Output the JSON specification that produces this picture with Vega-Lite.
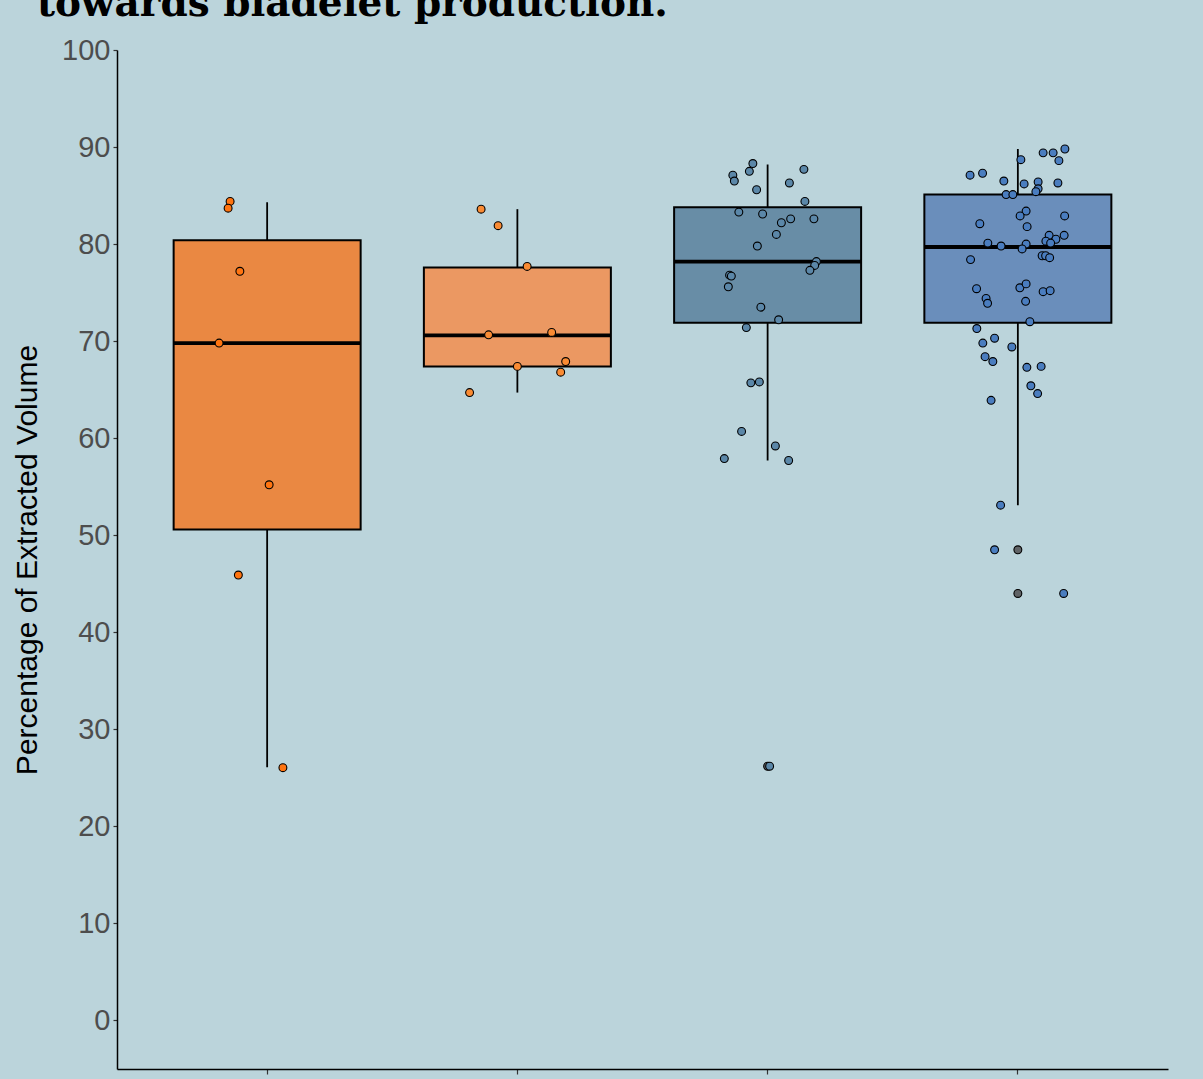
{
  "$schema": "https://vega.github.io/schema/vega-lite/v6.json",
  "width": 1051,
  "height": 1019,
  "autosize": "none",
  "padding": {"left": 117, "top": 50, "right": 35, "bottom": 10},
  "background": "#BBD4DB",
  "config": {"view": {"stroke": null}, "font": "Liberation Sans"},
  "title": {
    "text": "towards bladelet production.",
    "anchor": "start",
    "frame": "group",
    "dx": -80,
    "offset": -19,
    "baseline": "alphabetic",
    "font": "DejaVu Serif",
    "fontSize": 39,
    "fontWeight": "bold",
    "color": "#000000"
  },
  "datasets": {
    "boxes": [
      {"group": "A", "lower": 26.1, "q1": 50.6, "median": 69.8, "q3": 80.4, "upper": 84.3},
      {"group": "B", "lower": 64.7, "q1": 67.4, "median": 70.6, "q3": 77.6, "upper": 83.6},
      {"group": "C", "lower": 57.7, "q1": 71.9, "median": 78.2, "q3": 83.8, "upper": 88.2},
      {"group": "D", "lower": 53.1, "q1": 71.9, "median": 79.7, "q3": 85.1, "upper": 89.8}
    ],
    "outliers": [
      {"group": "C", "value": 26.2},
      {"group": "D", "value": 48.5},
      {"group": "D", "value": 44.0}
    ],
    "points": [
      {"group": "A", "value": 84.4, "jitter": -0.148},
      {"group": "A", "value": 83.7, "jitter": -0.156},
      {"group": "A", "value": 77.2, "jitter": -0.109},
      {"group": "A", "value": 69.8, "jitter": -0.192},
      {"group": "A", "value": 55.2, "jitter": 0.008},
      {"group": "A", "value": 45.9, "jitter": -0.115},
      {"group": "A", "value": 26.05, "jitter": 0.063},
      {"group": "B", "value": 83.6, "jitter": -0.145},
      {"group": "B", "value": 81.9, "jitter": -0.077},
      {"group": "B", "value": 77.7, "jitter": 0.039},
      {"group": "B", "value": 70.65, "jitter": -0.115},
      {"group": "B", "value": 70.9, "jitter": 0.137},
      {"group": "B", "value": 67.9, "jitter": 0.193},
      {"group": "B", "value": 67.4, "jitter": 0.0},
      {"group": "B", "value": 66.8, "jitter": 0.173},
      {"group": "B", "value": 64.7, "jitter": -0.191},
      {"group": "C", "value": 88.3, "jitter": -0.059},
      {"group": "C", "value": 87.1, "jitter": -0.139},
      {"group": "C", "value": 87.5, "jitter": -0.073},
      {"group": "C", "value": 86.5, "jitter": -0.133},
      {"group": "C", "value": 87.7, "jitter": 0.145},
      {"group": "C", "value": 86.3, "jitter": 0.087},
      {"group": "C", "value": 85.6, "jitter": -0.044},
      {"group": "C", "value": 84.4, "jitter": 0.149},
      {"group": "C", "value": 83.3, "jitter": -0.115},
      {"group": "C", "value": 83.1, "jitter": -0.02},
      {"group": "C", "value": 82.2, "jitter": 0.055},
      {"group": "C", "value": 82.6, "jitter": 0.092},
      {"group": "C", "value": 82.6, "jitter": 0.185},
      {"group": "C", "value": 81.0, "jitter": 0.035},
      {"group": "C", "value": 79.8, "jitter": -0.041},
      {"group": "C", "value": 78.2, "jitter": 0.195},
      {"group": "C", "value": 77.8, "jitter": 0.188},
      {"group": "C", "value": 77.3, "jitter": 0.169},
      {"group": "C", "value": 76.8, "jitter": -0.152},
      {"group": "C", "value": 76.7, "jitter": -0.145},
      {"group": "C", "value": 75.6, "jitter": -0.157},
      {"group": "C", "value": 73.5, "jitter": -0.027},
      {"group": "C", "value": 72.2, "jitter": 0.044},
      {"group": "C", "value": 71.4, "jitter": -0.085},
      {"group": "C", "value": 65.7, "jitter": -0.067},
      {"group": "C", "value": 65.8, "jitter": -0.033},
      {"group": "C", "value": 60.7, "jitter": -0.104},
      {"group": "C", "value": 59.2, "jitter": 0.031},
      {"group": "C", "value": 57.9, "jitter": -0.173},
      {"group": "C", "value": 57.7, "jitter": 0.084},
      {"group": "C", "value": 26.2, "jitter": 0.008},
      {"group": "D", "value": 88.7, "jitter": 0.012},
      {"group": "D", "value": 89.4, "jitter": 0.101},
      {"group": "D", "value": 89.4, "jitter": 0.141},
      {"group": "D", "value": 89.8, "jitter": 0.188},
      {"group": "D", "value": 88.6, "jitter": 0.164},
      {"group": "D", "value": 87.1, "jitter": -0.191},
      {"group": "D", "value": 87.3, "jitter": -0.141},
      {"group": "D", "value": 86.5, "jitter": -0.056},
      {"group": "D", "value": 86.2, "jitter": 0.025},
      {"group": "D", "value": 86.4, "jitter": 0.081},
      {"group": "D", "value": 86.3, "jitter": 0.16},
      {"group": "D", "value": 85.7, "jitter": 0.081},
      {"group": "D", "value": 85.4, "jitter": 0.072},
      {"group": "D", "value": 85.1, "jitter": -0.047},
      {"group": "D", "value": 85.1, "jitter": -0.02},
      {"group": "D", "value": 83.4, "jitter": 0.033},
      {"group": "D", "value": 82.9, "jitter": 0.009},
      {"group": "D", "value": 82.9, "jitter": 0.187},
      {"group": "D", "value": 82.1, "jitter": -0.152},
      {"group": "D", "value": 81.8, "jitter": 0.037},
      {"group": "D", "value": 80.9, "jitter": 0.125},
      {"group": "D", "value": 80.9, "jitter": 0.185},
      {"group": "D", "value": 80.5, "jitter": 0.152},
      {"group": "D", "value": 80.3, "jitter": 0.112},
      {"group": "D", "value": 80.1, "jitter": 0.131},
      {"group": "D", "value": 80.1, "jitter": -0.12},
      {"group": "D", "value": 79.8, "jitter": -0.067},
      {"group": "D", "value": 80.0, "jitter": 0.033},
      {"group": "D", "value": 79.5, "jitter": 0.017},
      {"group": "D", "value": 78.4, "jitter": -0.189},
      {"group": "D", "value": 78.8, "jitter": 0.097},
      {"group": "D", "value": 78.8, "jitter": 0.111},
      {"group": "D", "value": 78.6, "jitter": 0.127},
      {"group": "D", "value": 75.4, "jitter": -0.165},
      {"group": "D", "value": 75.5, "jitter": 0.008},
      {"group": "D", "value": 75.9, "jitter": 0.033},
      {"group": "D", "value": 75.1, "jitter": 0.101},
      {"group": "D", "value": 75.2, "jitter": 0.129},
      {"group": "D", "value": 74.4, "jitter": -0.127},
      {"group": "D", "value": 73.9, "jitter": -0.121},
      {"group": "D", "value": 74.1, "jitter": 0.031},
      {"group": "D", "value": 72.0, "jitter": 0.048},
      {"group": "D", "value": 71.3, "jitter": -0.164},
      {"group": "D", "value": 70.3, "jitter": -0.093},
      {"group": "D", "value": 69.8, "jitter": -0.14},
      {"group": "D", "value": 69.4, "jitter": -0.024},
      {"group": "D", "value": 68.4, "jitter": -0.131},
      {"group": "D", "value": 67.9, "jitter": -0.1},
      {"group": "D", "value": 67.3, "jitter": 0.036},
      {"group": "D", "value": 67.4, "jitter": 0.093},
      {"group": "D", "value": 65.4, "jitter": 0.052},
      {"group": "D", "value": 64.6, "jitter": 0.079},
      {"group": "D", "value": 63.9, "jitter": -0.107},
      {"group": "D", "value": 53.1, "jitter": -0.069},
      {"group": "D", "value": 48.5, "jitter": -0.093},
      {"group": "D", "value": 44.0, "jitter": 0.183}
    ]
  },
  "encoding": {
    "x": {
      "field": "group",
      "type": "nominal",
      "scale": {"domain": ["A", "B", "C", "D"], "paddingInner": 0, "paddingOuter": 0.1},
      "axis": {
        "title": null,
        "labels": false,
        "domainColor": "#000000",
        "domainWidth": 1.5,
        "tickColor": "#333333",
        "tickSize": 5,
        "tickWidth": 1.2,
        "grid": false
      }
    }
  },
  "layer": [
    {
      "data": {"name": "boxes"},
      "mark": {"type": "rule", "color": "#000000", "strokeWidth": 1.8},
      "encoding": {
        "y": {
          "field": "lower",
          "type": "quantitative",
          "scale": {"domain": [-5, 100], "nice": false, "zero": false},
          "axis": {
            "values": [0, 10, 20, 30, 40, 50, 60, 70, 80, 90, 100],
            "grid": false,
            "domainColor": "#000000",
            "domainWidth": 1.5,
            "tickColor": "#333333",
            "tickSize": 4,
            "tickWidth": 1.2,
            "labelFontSize": 29,
            "labelColor": "#4D4D4D",
            "labelPadding": 3,
            "title": "Percentage of Extracted Volume",
            "titleFontSize": 30,
            "titleFontWeight": "normal",
            "titleColor": "#000000",
            "titlePadding": 19
          }
        },
        "y2": {"field": "upper"}
      }
    },
    {
      "data": {"name": "boxes"},
      "mark": {"type": "bar", "width": 187, "stroke": "#000000", "strokeWidth": 2},
      "encoding": {
        "y": {"field": "q1", "type": "quantitative"},
        "y2": {"field": "q3"},
        "fill": {
          "field": "group",
          "type": "nominal",
          "scale": {"domain": ["A", "B", "C", "D"], "range": ["#EA8842", "#EB9862", "#688DA6", "#6A8EBB"]},
          "legend": null
        }
      }
    },
    {
      "data": {"name": "boxes"},
      "mark": {"type": "tick", "color": "#000000", "thickness": 3.8, "size": 187, "opacity": 1},
      "encoding": {
        "y": {"field": "median", "type": "quantitative"}
      }
    },
    {
      "data": {"name": "outliers"},
      "mark": {"type": "point", "shape": "circle", "filled": true, "fill": "#606366", "stroke": "#000000", "strokeWidth": 1.1, "size": 62, "opacity": 1},
      "encoding": {
        "y": {"field": "value", "type": "quantitative"}
      }
    },
    {
      "data": {"name": "points"},
      "mark": {"type": "point", "shape": "circle", "filled": true, "stroke": "#000000", "strokeWidth": 1.1, "size": 62, "opacity": 1, "fillOpacity": 1, "strokeOpacity": 1},
      "encoding": {
        "xOffset": {"field": "jitter", "type": "quantitative", "scale": {"domain": [-0.5, 0.5]}},
        "y": {"field": "value", "type": "quantitative"},
        "fill": {
          "field": "group",
          "type": "nominal",
          "scale": {"domain": ["A", "B", "C", "D"], "range": ["#FF7410", "#FA8B33", "#5B87A8", "#4A7DBF"]},
          "legend": null
        }
      }
    }
  ],
  "resolve": {"scale": {"fill": "independent"}}
}
